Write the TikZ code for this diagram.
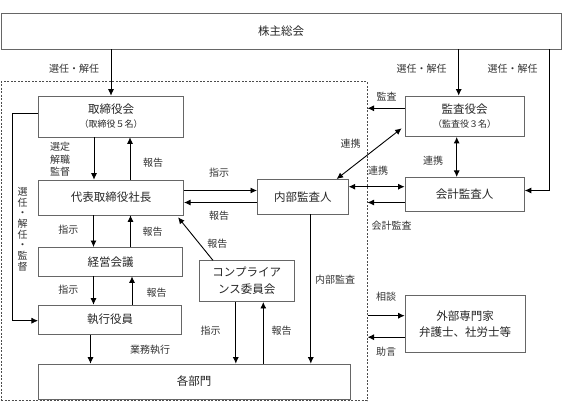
\documentclass[tikz,border=0pt]{standalone}
\usepackage{fontspec}
\setmainfont{Noto Sans CJK JP}
\usetikzlibrary{arrows.meta}

\tikzset{
  box/.style={draw=black!60, line width=0.6pt, inner sep=0pt, align=center,
    text=black!85, font=\fontsize{11.5}{17}\selectfont},
  lbl/.style={inner sep=0pt, align=center, text=black!80,
    font=\fontsize{10}{12.5}\selectfont},
  grpbox/.style={draw=black!70, dash pattern=on 2pt off 1.5pt, line width=0.6pt,
    inner sep=0pt},
  arr/.style={-{Latex[length=6.5pt,width=6pt]}, line width=0.9pt},
  dbl/.style={{Latex[length=6.5pt,width=6pt]}-{Latex[length=6.5pt,width=6pt]}, line width=0.9pt},
}
\newcommand{\subtext}[1]{{\fontsize{9}{11}\selectfont #1}}

\begin{document}
\begin{tikzpicture}[x=1pt,y=-1pt]
    \useasboundingbox (0,0) rectangle (587,411);

    % company area
    \node[grpbox, minimum width=366pt, minimum height=319pt] (grp) at (184.2,241.2) {};

    % boxes
    \node[box, minimum width=560pt, minimum height=36pt] (sh) at (281,31.2) {株主総会};
    \node[box, minimum width=145.5pt, minimum height=41pt] (tori) at (111,116.5) {取締役会\\[-3pt]\subtext{（取締役５名）}};
    \node[box, minimum width=119.5pt, minimum height=40.7pt] (kansa) at (464.7,116.3) {監査役会\\[-3pt]\subtext{（監査役３名）}};
    \node[box, minimum width=145.5pt, minimum height=35pt] (daihyo) at (111,197.5) {代表取締役社長};
    \node[box, minimum width=91pt, minimum height=34.7pt] (naibu) at (302.8,196.7) {内部監査人};
    \node[box, minimum width=119.5pt, minimum height=34.4pt] (kaikei) at (464.7,194.5) {会計監査人};
    \node[box, minimum width=144.5pt, minimum height=28.7pt] (keiei) at (110.5,261.7) {経営会議};
    \node[box, minimum width=95pt, minimum height=41pt] (compl) at (246.8,281.2) {コンプライア\\ンス委員会};
    \node[box, minimum width=143.5pt, minimum height=29.3pt] (shikko) at (110,319.7) {執行役員};
    \node[box, minimum width=311.7pt, minimum height=35pt] (kakubu) at (194.2,381.5) {各部門};
    \node[box, minimum width=120pt, minimum height=57pt, font=\fontsize{11.5}{15.6}\selectfont] (gaibu) at (465,324.2) {外部専門家\\弁護士、社労士等};

    % from the shareholders
    \draw[arr] (sh.south -| tori.north) -- (tori.north);
    \draw[arr] ([xshift=-6pt]kansa.north |- sh.south) -- ([xshift=-6pt]kansa.north);
    \draw[arr] ([xshift=25pt]kaikei.east |- sh.south) -- ([xshift=25pt,yshift=4pt]kaikei.east) -- ([yshift=4pt]kaikei.east);

    % auditors
    \draw[arr] ([yshift=8pt]kansa.west) -- ([yshift=8pt]kansa.west -| grp.east);
    \draw[dbl] ([xshift=-3pt,yshift=-12pt]kansa.west) -- ([xshift=-12pt]naibu.north east);
    \draw[dbl] ([xshift=-8pt]kansa.south) -- ([xshift=-8pt]kaikei.north);
    \draw[dbl] ([yshift=10pt]naibu.east) -- ([yshift=10pt]naibu.east -| kaikei.west);
    \draw[arr] ([yshift=-8pt]kaikei.west) -- ([yshift=-8pt]kaikei.west -| grp.east);

    % president and internal audit
    \draw[arr] ([yshift=7pt]daihyo.east) -- ([yshift=7pt]daihyo.east -| naibu.west);
    \draw[arr] ([yshift=-5pt]daihyo.east -| naibu.west) -- ([yshift=-5pt]daihyo.east);
    \draw[arr] ([xshift=8pt]naibu.south) -- ([xshift=8pt]naibu.south |- kakubu.north);

    % down the left column
    \draw[arr] ([xshift=-17pt]tori.south) -- ([xshift=-17pt]tori.south |- daihyo.north);
    \draw[arr] ([xshift=19pt]daihyo.north) -- ([xshift=19pt]daihyo.north |- tori.south);
    \draw[arr] ([xshift=-17.5pt]daihyo.south) -- ([xshift=-17.5pt]daihyo.south |- keiei.north);
    \draw[arr] ([xshift=20pt]keiei.north) -- ([xshift=20pt]keiei.north |- daihyo.south);
    \draw[arr] ([xshift=-17pt]keiei.south) -- ([xshift=-17pt]keiei.south |- shikko.north);
    \draw[arr] ([xshift=22pt]shikko.north) -- ([xshift=22pt]shikko.north |- keiei.south);
    \draw[arr] ([xshift=-19.5pt]shikko.south) -- ([xshift=-19.5pt]shikko.south |- kakubu.north);
    \draw[-{Latex[length=6.5pt,width=6pt]}, line width=0.7pt] ([yshift=3pt]tori.west) -| ([xshift=-26pt,yshift=-1pt]shikko.west) -- ([yshift=-1pt]shikko.west);

    % compliance committee
    \draw[arr] ([xshift=14pt]compl.north west) -- ([xshift=-6pt,yshift=-2pt]daihyo.south east);
    \draw[arr] ([xshift=-11pt]compl.south) -- ([xshift=-11pt]compl.south |- kakubu.north);
    \draw[arr] ([xshift=16.5pt]compl.south |- kakubu.north) -- ([xshift=16.5pt]compl.south);

    % outside experts
    \draw[arr] ([yshift=8.5pt]gaibu.west -| grp.east) -- ([yshift=8.5pt]gaibu.west);
    \draw[arr] ([yshift=-13pt]gaibu.west) -- ([yshift=-13pt]gaibu.west -| grp.east);

    % labels
    \node[lbl] (l1) at (74,69) {選任・解任};
    \node[lbl] (l2) at (421.7,69) {選任・解任};
    \node[lbl] (l3) at (512.7,69) {選任・解任};
    \node[lbl] (l4) at (386.7,96.7) {監査};
    \node[lbl] (l5) at (350.7,143.3) {連携};
    \node[lbl] (l6) at (433,161) {連携};
    \node[lbl] (l7) at (378,170.7) {連携};
    \node[lbl] (l8) at (391.7,226) {会計監査};
    \node[lbl, font=\fontsize{10}{12.5}\selectfont] (l9) at (60,159.3) {選定\\解職\\監督};
    \node[lbl] (l10) at (153,162.3) {報告};
    \node[lbl] (l11) at (219,172.7) {指示};
    \node[lbl] (l12) at (219,215.3) {報告};
    \node[lbl] (l13) at (217.3,243.3) {報告};
    \node[lbl] (l14) at (68.3,230) {指示};
    \node[lbl] (l15) at (152.7,231.7) {報告};
    \node[lbl, font=\fontsize{10}{10.7}\selectfont] (l16) at (22.7,229.2) {選\\任\\・\\解\\任\\・\\監\\督};
    \node[lbl] (l17) at (68.3,290) {指示};
    \node[lbl] (l18) at (156.7,292.7) {報告};
    \node[lbl] (l19) at (150,350) {業務執行};
    \node[lbl] (l20) at (210.7,331) {指示};
    \node[lbl] (l21) at (281.7,331) {報告};
    \node[lbl] (l22) at (335,279.3) {内部監査};
    \node[lbl] (l23) at (386,296.7) {相談};
    \node[lbl] (l24) at (386,351.7) {助言};

\end{tikzpicture}
\end{document}
